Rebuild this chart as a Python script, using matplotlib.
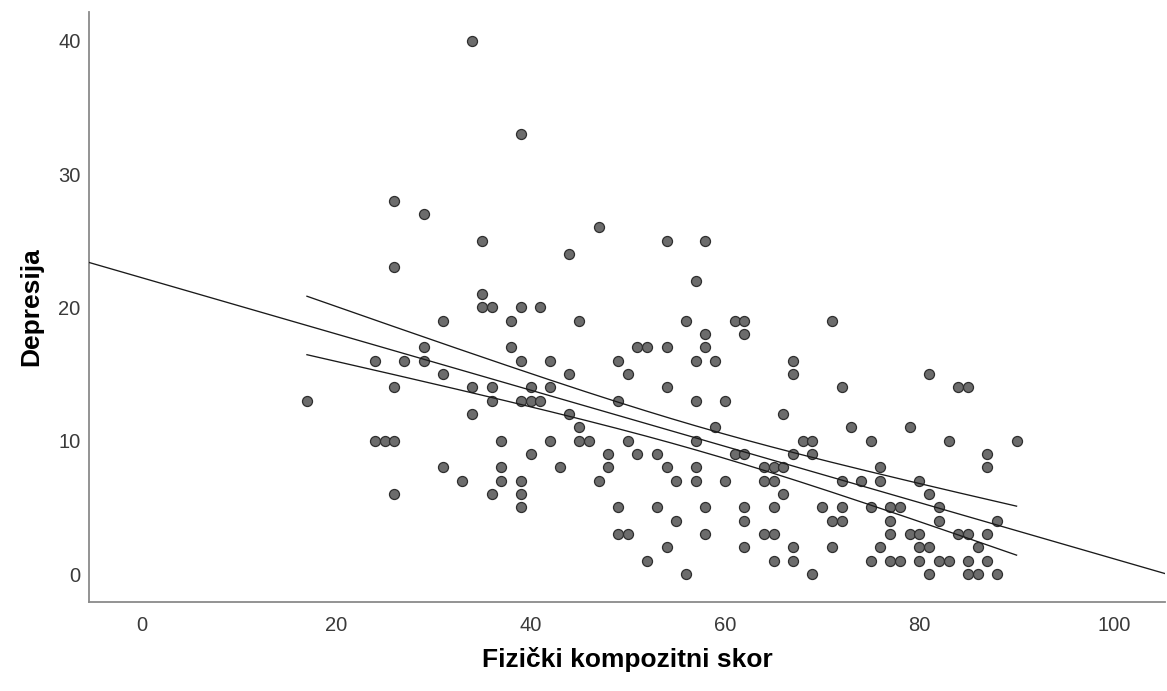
import numpy as np
import matplotlib
matplotlib.use("Agg")
import matplotlib.pyplot as plt

# Fizički kompozitni skor (x) and Depresija (y)
fizicki = [
    34, 39, 26, 29, 35, 44, 26, 35,
    35, 36, 39, 41,
    47, 54, 58, 57,
    31, 38, 45, 56, 61, 62, 71,
    58, 62,
    29, 38, 51, 52, 54, 58,
    24, 27, 29, 39, 42, 49, 57, 59, 67,
    31, 44, 50, 67, 81,
    26, 34, 36, 40, 42, 54, 72, 84, 85,
    17, 36, 39, 40, 41, 49, 57, 60,
    34, 44, 66,
    45, 59, 73, 79,
    24, 25, 26, 37, 42, 45, 46, 50, 57, 68, 69, 75, 83, 90,
    40, 48, 51, 53, 61, 62, 67, 69, 87,
    31, 37, 43, 48, 54, 57, 64, 65, 66, 76, 87,
    33, 37, 39, 47, 55, 57, 60, 64, 65, 72, 74, 76, 80,
    26, 36, 39, 66, 81,
    39, 49, 53, 58, 62, 65, 70, 72, 75, 77, 78, 82,
    55, 62, 71, 72, 77, 82, 88,
    49, 50, 58, 64, 65, 77, 79, 80, 84, 85, 87,
    54, 62, 67, 71, 76, 80, 81, 86,
    52, 65, 67, 75, 77, 78, 80, 82, 83, 85, 87,
    56, 69, 81, 85, 86, 88,
]
depresija = [
    40, 33, 28, 27, 25, 24, 23, 21,
    20, 20, 20, 20,
    26, 25, 25, 22,
    19, 19, 19, 19, 19, 19, 19,
    18, 18,
    17, 17, 17, 17, 17, 17,
    16, 16, 16, 16, 16, 16, 16, 16, 16,
    15, 15, 15, 15, 15,
    14, 14, 14, 14, 14, 14, 14, 14, 14,
    13, 13, 13, 13, 13, 13, 13, 13,
    12, 12, 12,
    11, 11, 11, 11,
    10, 10, 10, 10, 10, 10, 10, 10, 10, 10, 10, 10, 10, 10,
    9, 9, 9, 9, 9, 9, 9, 9, 9,
    8, 8, 8, 8, 8, 8, 8, 8, 8, 8, 8,
    7, 7, 7, 7, 7, 7, 7, 7, 7, 7, 7, 7, 7,
    6, 6, 6, 6, 6,
    5, 5, 5, 5, 5, 5, 5, 5, 5, 5, 5, 5,
    4, 4, 4, 4, 4, 4, 4,
    3, 3, 3, 3, 3, 3, 3, 3, 3, 3, 3,
    2, 2, 2, 2, 2, 2, 2, 2,
    1, 1, 1, 1, 1, 1, 1, 1, 1, 1, 1,
    0, 0, 0, 0, 0, 0,
]
x_ticks = [0, 20, 40, 60, 80, 100]
y_ticks = [0, 10, 20, 30, 40]
x_label = "Fizički kompozitni skor"
y_label = "Depresija"

x = np.array(fizicki, dtype=float)
y = np.array(depresija, dtype=float)

plt.rcParams['font.family'] = ['Liberation Sans', 'DejaVu Sans']

fig = plt.figure(figsize=(11.67, 6.91), dpi=100)
ax = fig.add_axes([89/1167, 89/691, (1165-89)/1167, (602-12)/691])

xlim = (-5.42, 105.27)
ylim = (-2.1, 42.16)

# linear fit and 95% mean confidence interval
slope, intercept = np.polyfit(x, y, 1)
n = len(x)
resid = y - (intercept + slope * x)
s = np.sqrt(np.sum(resid**2) / (n - 2))
xm = x.mean()
sxx = np.sum((x - xm)**2)
t_val = 1.974
xf = np.linspace(xlim[0], xlim[1], 200)
ax.plot(xf, intercept + slope * xf, color='#1a1a1a', lw=0.95, zorder=3)
xc = np.linspace(x.min(), x.max(), 200)
yc = intercept + slope * xc
half = t_val * s * np.sqrt(1.0 / n + (xc - xm)**2 / sxx)
ax.plot(xc, yc + half, color='#1a1a1a', lw=0.95, zorder=3)
ax.plot(xc, yc - half, color='#1a1a1a', lw=0.95, zorder=3)

ax.scatter(x, y, s=52, facecolor='#6c6c6c', edgecolor='#2e2e2e',
           linewidths=0.9, zorder=2)

ax.set_xlim(*xlim)
ax.set_ylim(*ylim)
ax.set_xticks(x_ticks)
ax.set_yticks(y_ticks)
ax.tick_params(axis='both', length=0, labelsize=14.5, labelcolor='#3a3a3a')
ax.tick_params(axis='x', pad=10)
ax.tick_params(axis='y', pad=6)
for sp in ['top', 'right']:
    ax.spines[sp].set_visible(False)
for sp in ['left', 'bottom']:
    ax.spines[sp].set_color('#8a8a8a')
    ax.spines[sp].set_linewidth(1.3)

ax.set_xlabel(x_label, fontsize=19, fontweight='bold', labelpad=9)
ax.set_ylabel(y_label, fontsize=19, fontweight='bold', labelpad=11)

fig.savefig("out.png", dpi=100, facecolor='white')
